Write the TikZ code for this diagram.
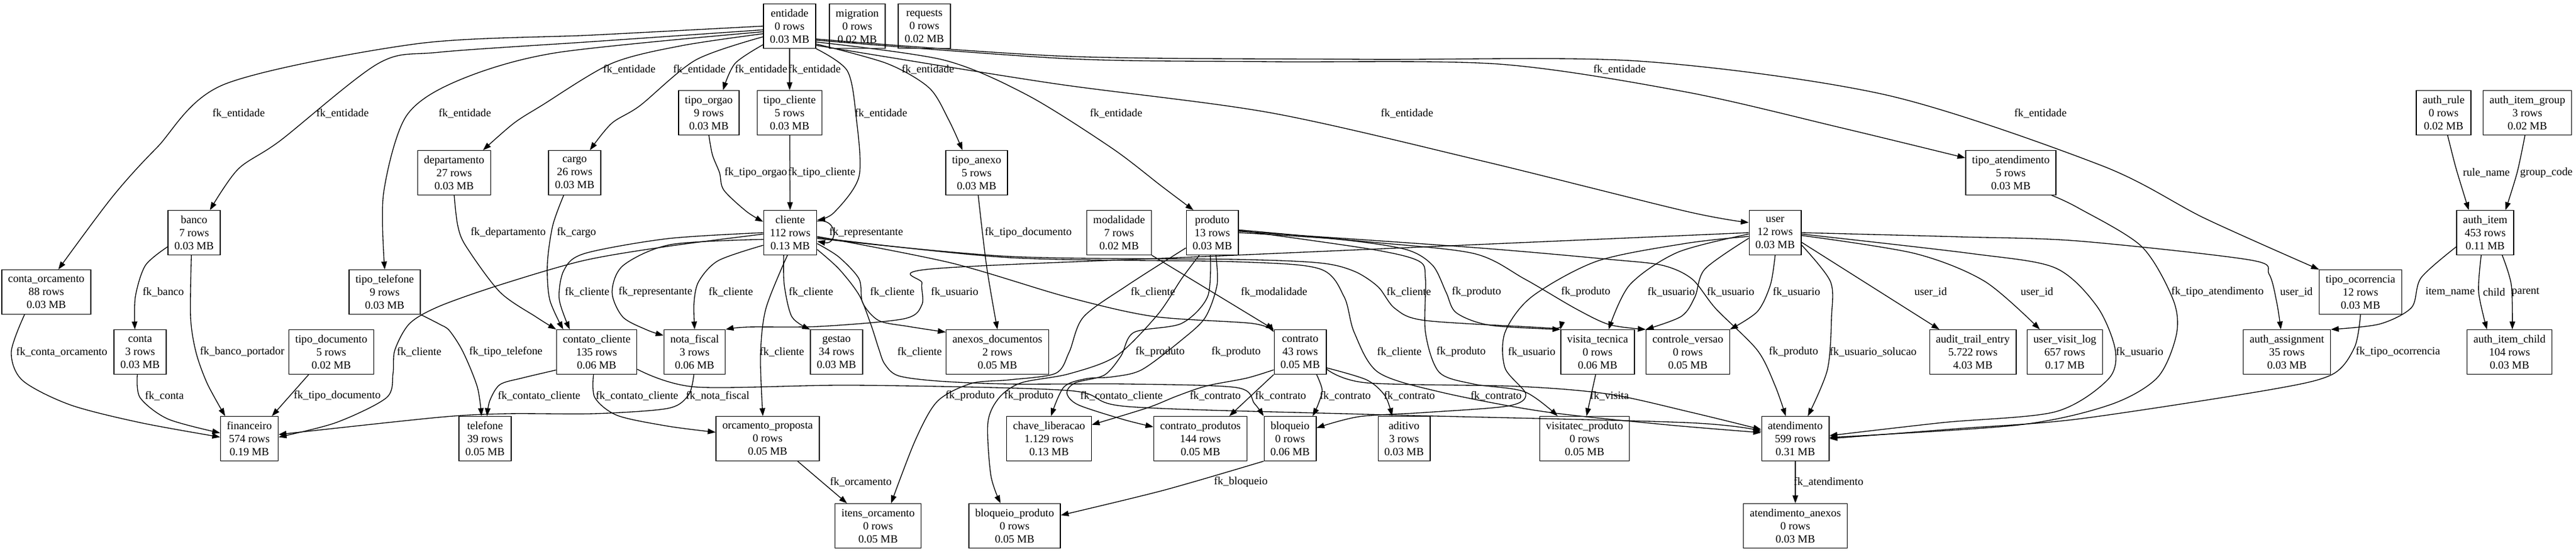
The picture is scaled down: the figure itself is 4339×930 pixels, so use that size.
\documentclass[tikz,border=0pt]{standalone}
\usepackage{fontspec}
\setmainfont{Liberation Serif}
\usetikzlibrary{arrows.meta}

\begin{document}
\begin{tikzpicture}[x=0.75pt, y=-0.75pt,
    tbl/.style={draw, line width=1pt, align=center, inner xsep=8pt, inner ysep=2pt,
      minimum width=54pt, minimum height=56pt, font=\fontsize{14}{16.5}\selectfont},
    lbl/.style={inner sep=1pt, font=\fontsize{14}{16.5}\selectfont},
    fk/.style={line width=1pt, tension=0.5, -{Triangle[length=10pt, width=7pt]}}]

            \path[fill=white] (0,0) rectangle (4339,930);

            \node[tbl] (entidade) at (1330,44) {entidade\\0 rows\\0.03 MB};
            \node[tbl] (migration) at (1444,44) {migration\\0 rows\\0.02 MB};
            \node[tbl] (requests) at (1557,44) {requests\\0 rows\\0.02 MB};
            \node[tbl] (tipo_orgao) at (1194,190) {tipo\_orgao\\9 rows\\0.03 MB};
            \node[tbl] (tipo_cliente) at (1330,190) {tipo\_cliente\\5 rows\\0.03 MB};
            \node[tbl] (auth_rule) at (4116,190) {auth\_rule\\0 rows\\0.02 MB};
            \node[tbl] (auth_item_group) at (4257,190) {auth\_item\_group\\3 rows\\0.02 MB};
            \node[tbl] (departamento) at (765,291) {departamento\\27 rows\\0.03 MB};
            \node[tbl] (cargo) at (968,291) {cargo\\26 rows\\0.03 MB};
            \node[tbl] (tipo_anexo) at (1645,291) {tipo\_anexo\\5 rows\\0.03 MB};
            \node[tbl] (tipo_atendimento) at (3387,291) {tipo\_atendimento\\5 rows\\0.03 MB};
            \node[tbl] (banco) at (327,392) {banco\\7 rows\\0.03 MB};
            \node[tbl] (cliente) at (1331,392) {cliente\\112 rows\\0.13 MB};
            \node[tbl] (modalidade) at (1885,392) {modalidade\\7 rows\\0.02 MB};
            \node[tbl] (produto) at (2042,392) {produto\\13 rows\\0.03 MB};
            \node[tbl] (user) at (2990,392) {user\\12 rows\\0.03 MB};
            \node[tbl] (auth_item) at (4186,392) {auth\_item\\453 rows\\0.11 MB};
            \node[tbl] (conta_orcamento) at (78,492) {conta\_orcamento\\88 rows\\0.03 MB};
            \node[tbl] (tipo_telefone) at (648,492) {tipo\_telefone\\9 rows\\0.03 MB};
            \node[tbl] (tipo_ocorrencia) at (3976,492) {tipo\_ocorrencia\\12 rows\\0.03 MB};
            \node[tbl] (conta) at (236,593) {conta\\3 rows\\0.03 MB};
            \node[tbl] (tipo_documento) at (558,593) {tipo\_documento\\5 rows\\0.02 MB};
            \node[tbl] (contato_cliente) at (1005,593) {contato\_cliente\\135 rows\\0.06 MB};
            \node[tbl] (nota_fiscal) at (1170,593) {nota\_fiscal\\3 rows\\0.06 MB};
            \node[tbl] (gestao) at (1409,593) {gestao\\34 rows\\0.03 MB};
            \node[tbl] (anexos_documentos) at (1680,593) {anexos\_documentos\\2 rows\\0.05 MB};
            \node[tbl] (contrato) at (2190,593) {contrato\\43 rows\\0.05 MB};
            \node[tbl] (visita_tecnica) at (2691,593) {visita\_tecnica\\0 rows\\0.06 MB};
            \node[tbl] (controle_versao) at (2843,593) {controle\_versao\\0 rows\\0.05 MB};
            \node[tbl] (audit_trail_entry) at (3323,593) {audit\_trail\_entry\\5.722 rows\\4.03 MB};
            \node[tbl] (user_visit_log) at (3478,593) {user\_visit\_log\\657 rows\\0.17 MB};
            \node[tbl] (auth_assignment) at (3852,593) {auth\_assignment\\35 rows\\0.03 MB};
            \node[tbl] (auth_item_child) at (4227,593) {auth\_item\_child\\104 rows\\0.03 MB};
            \node[tbl] (financeiro) at (420,739) {financeiro\\574 rows\\0.19 MB};
            \node[tbl] (telefone) at (817,739) {telefone\\39 rows\\0.05 MB};
            \node[tbl] (orcamento_proposta) at (1293,739) {orcamento\_proposta\\0 rows\\0.05 MB};
            \node[tbl] (chave_liberacao) at (1767,739) {chave\_liberacao\\1.129 rows\\0.13 MB};
            \node[tbl] (contrato_produtos) at (2022,739) {contrato\_produtos\\144 rows\\0.05 MB};
            \node[tbl] (bloqueio) at (2173,739) {bloqueio\\0 rows\\0.06 MB};
            \node[tbl] (aditivo) at (2365,739) {aditivo\\3 rows\\0.03 MB};
            \node[tbl] (visitatec_produto) at (2669,739) {visitatec\_produto\\0 rows\\0.05 MB};
            \node[tbl] (atendimento) at (3024,739) {atendimento\\599 rows\\0.31 MB};
            \node[tbl] (itens_orcamento) at (1479,886) {itens\_orcamento\\0 rows\\0.05 MB};
            \node[tbl] (bloqueio_produto) at (1709,886) {bloqueio\_produto\\0 rows\\0.05 MB};
            \node[tbl] (atendimento_anexos) at (3024,886) {atendimento\_anexos\\0 rows\\0.03 MB};

            \node[lbl] (l1) at (402,191) {fk\_entidade};
            \node[lbl] (l2) at (577,191) {fk\_entidade};
            \node[lbl] (l3) at (783,191) {fk\_entidade};
            \node[lbl] (l4) at (1060,117) {fk\_entidade};
            \node[lbl] (l5) at (1178,117) {fk\_entidade};
            \node[lbl] (l6) at (1282,117) {fk\_entidade};
            \node[lbl] (l7) at (1372,117) {fk\_entidade};
            \node[lbl] (l8) at (1484,191) {fk\_entidade};
            \node[lbl] (l9) at (1563,117) {fk\_entidade};
            \node[lbl] (l10) at (1880,191) {fk\_entidade};
            \node[lbl] (l11) at (2370,191) {fk\_entidade};
            \node[lbl] (l12) at (2728,117) {fk\_entidade};
            \node[lbl] (l13) at (3437,191) {fk\_entidade};
            \node[lbl] (l14) at (1273,291) {fk\_tipo\_orgao};
            \node[lbl] (l15) at (1384,291) {fk\_tipo\_cliente};
            \node[lbl] (l16) at (4188,291) {rule\_name};
            \node[lbl] (l17) at (4289,291) {group\_code};
            \node[lbl] (l18) at (856,392) {fk\_departamento};
            \node[lbl] (l19) at (971,392) {fk\_cargo};
            \node[lbl] (l20) at (1459,392) {fk\_representante};
            \node[lbl] (l21) at (1732,392) {fk\_tipo\_documento};
            \node[lbl] (l22) at (275,492) {fk\_banco};
            \node[lbl] (l23) at (989,492) {fk\_cliente};
            \node[lbl] (l24) at (1104,492) {fk\_representante};
            \node[lbl] (l25) at (1231,492) {fk\_cliente};
            \node[lbl] (l26) at (1366,492) {fk\_cliente};
            \node[lbl] (l27) at (1503,492) {fk\_cliente};
            \node[lbl] (l28) at (1608,492) {fk\_usuario};
            \node[lbl] (l29) at (1942,492) {fk\_cliente};
            \node[lbl] (l30) at (2146,492) {fk\_modalidade};
            \node[lbl] (l31) at (2373,492) {fk\_cliente};
            \node[lbl] (l32) at (2487,492) {fk\_produto};
            \node[lbl] (l33) at (2671,492) {fk\_produto};
            \node[lbl] (l34) at (2815,492) {fk\_usuario};
            \node[lbl] (l35) at (2915,492) {fk\_usuario};
            \node[lbl] (l36) at (3026,492) {fk\_usuario};
            \node[lbl] (l37) at (3252,492) {user\_id};
            \node[lbl] (l38) at (3431,492) {user\_id};
            \node[lbl] (l39) at (3735,492) {fk\_tipo\_atendimento};
            \node[lbl] (l40) at (3868,492) {user\_id};
            \node[lbl] (l41) at (4127,492) {item\_name};
            \node[lbl] (l42) at (4201,492) {child};
            \node[lbl] (l43) at (4254,492) {parent};
            \node[lbl] (l44) at (104,593) {fk\_conta\_orcamento};
            \node[lbl] (l45) at (408,593) {fk\_banco\_portador};
            \node[lbl] (l46) at (706,593) {fk\_cliente};
            \node[lbl] (l47) at (852,593) {fk\_tipo\_telefone};
            \node[lbl] (l48) at (1317,593) {fk\_cliente};
            \node[lbl] (l49) at (1549,593) {fk\_cliente};
            \node[lbl] (l50) at (2082,593) {fk\_produto};
            \node[lbl] (l51) at (1954,593) {fk\_produto};
            \node[lbl] (l52) at (2357,593) {fk\_cliente};
            \node[lbl] (l53) at (2461,593) {fk\_produto};
            \node[lbl] (l54) at (2580,593) {fk\_usuario};
            \node[lbl] (l55) at (3021,593) {fk\_produto};
            \node[lbl] (l56) at (3155,593) {fk\_usuario\_solucao};
            \node[lbl] (l57) at (3604,593) {fk\_usuario};
            \node[lbl] (l58) at (4039,593) {fk\_tipo\_ocorrencia};
            \node[lbl] (l59) at (277,667) {fk\_conta};
            \node[lbl] (l60) at (568,667) {fk\_tipo\_documento};
            \node[lbl] (l61) at (908,667) {fk\_contato\_cliente};
            \node[lbl] (l62) at (1073,667) {fk\_contato\_cliente};
            \node[lbl] (l63) at (1209,667) {fk\_nota\_fiscal};
            \node[lbl] (l64) at (1634,667) {fk\_produto};
            \node[lbl] (l65) at (1733,667) {fk\_produto};
            \node[lbl] (l66) at (1889,667) {fk\_contato\_cliente};
            \node[lbl] (l67) at (2047,667) {fk\_contrato};
            \node[lbl] (l68) at (2157,667) {fk\_contrato};
            \node[lbl] (l69) at (2266,667) {fk\_contrato};
            \node[lbl] (l70) at (2374,667) {fk\_contrato};
            \node[lbl] (l71) at (2520,667) {fk\_contrato};
            \node[lbl] (l72) at (2711,667) {fk\_visita};
            \node[lbl] (l73) at (1450,812) {fk\_orcamento};
            \node[lbl] (l74) at (2090,812) {fk\_bloqueio};
            \node[lbl] (l75) at (3080,812) {fk\_atendimento};

            \draw[fk] plot[smooth] coordinates {(entidade.west) (1000,59) (700,74) (378,142) (264,249) (189,332) (conta_orcamento.62)};
            \draw[fk] plot[smooth] coordinates {(entidade.188) (1000,70) (740,88) (637,107) (472,237) (401,285) (banco.55)};
            \draw[fk] plot[smooth] coordinates {(entidade.192) (936,89) (771,136) (684,196) (646,326) (tipo_telefone.north)};
            \draw[fk] plot[smooth] coordinates {(entidade.196) (1148,77) (1030,107) (912,178) (865,208) (departamento.38)};
            \draw[fk] plot[smooth] coordinates {(entidade.202) (1172,101) (1078,178) (1030,208) (cargo.56)};
            \draw[fk] plot[smooth] coordinates {(entidade.215) (1238,107) (tipo_orgao.58)};
            \draw[fk] (entidade) -- (tipo_cliente);
            \draw[fk] plot[smooth] coordinates {(entidade.south east) (1427,119) (1442,196) (1447,297) (1405,358) (cliente.25)};
            \draw[fk] plot[smooth] coordinates {(entidade.-34) (1494,107) (1565,148) (1598,202) (tipo_anexo.122)};
            \draw[fk] plot[smooth] coordinates {(entidade.-31) (1589,101) (1730,160) (1872,249) (1957,314) (produto.130)};
            \draw[fk] plot[smooth] coordinates {(entidade.-36) (1770,140) (2140,190) (2500,272) (2840,356) (user.159)};
            \draw[fk] plot[smooth] coordinates {(entidade.-28) (1800,99) (2140,104) (2525,108) (2840,155) (3100,215) (tipo_atendimento.162)};
            \draw[fk] plot[smooth] coordinates {(entidade.-26) (1800,95) (2300,100) (2761,103) (3177,160) (3540,279) (3714,368) (tipo_ocorrencia.north west)};
            \draw[fk] plot[smooth] coordinates {(tipo_orgao.south) (1200,261) (1212,291) (1219,320) (1257,356) (cliente.158)};
            \draw[fk] (tipo_cliente) -- (cliente);
            \draw[fk] plot[smooth] coordinates {(auth_rule.-80) (4137,284) (auth_item.126)};
            \draw[fk] plot[smooth] coordinates {(auth_item_group.-96) (4240,290) (auth_item.48)};
            \draw[fk] plot[smooth] coordinates {(departamento.south) (771,380) (785,415) (842,492) (903,534) (contato_cliente.north west)};
            \draw[fk] plot[smooth] coordinates {(cargo.-116) (931,380) (922,445) (926,505) (contato_cliente.146)};
            \draw[fk] (cliente.23) .. controls +(35,-6) and +(35,6) .. (cliente.-18);
            \draw[fk] plot[smooth] coordinates {(tipo_anexo.-86) (1662,450) (anexos_documentos.north)};
            \draw[fk] plot[smooth] coordinates {(banco.208) (245,447) (228,500) (conta.103)};
            \draw[fk] plot[smooth] coordinates {(cliente.west) (1125,402) (985,427) (950,455) (942,504) (contato_cliente.140)};
            \draw[fk] plot[smooth] coordinates {(cliente.194) (1130,412) (1050,447) (1031,492) (1049,534) (1090,556) (nota_fiscal.152)};
            \draw[fk] plot[smooth] coordinates {(cliente.205) (1210,439) (1177,474) (1169,510) (nota_fiscal.north)};
            \draw[fk] plot[smooth] coordinates {(cliente.-106) (1321,480) (1334,534) (gestao.north west)};
            \draw[fk] plot[smooth] coordinates {(cliente.-22) (1413,433) (1447,470) (1453,510) (1480,540) (1530,550) (anexos_documentos.159)};
            \draw[fk] plot[smooth] coordinates {(user.west) (2080,430) (1570,453) (1553,477) (1553,513) (1523,537) (1380,550) (1260,551) (nota_fiscal.north east)};
            \draw[fk] plot[smooth] coordinates {(cliente.-8) (1602,443) (1796,500) (1942,533) (2110,545) (contrato.143)};
            \draw[fk] (modalidade.south east) -- (contrato.north west);
            \draw[fk] plot[smooth] coordinates {(cliente.-12) (1700,432) (2080,437) (2223,443) (2281,457) (2321,483) (2350,520) (2401,540) (2597,552) (visita_tecnica.north west)};
            \draw[fk] plot[smooth] coordinates {(produto.east) (2252,403) (2367,420) (2413,447) (2436,493) (2453,527) (2510,548) (visita_tecnica.north west)};
            \draw[fk] plot[smooth] coordinates {(produto.6) (2300,407) (2482,427) (2568,470) (2654,520) (2711,547) (controle_versao.north west)};
            \draw[fk] plot[smooth] coordinates {(user.183) (2826,425) (2745,480) (visita_tecnica.64)};
            \draw[fk] plot[smooth] coordinates {(user.192) (2872,453) (2855,500) (2832,533) (controle_versao.north west)};
            \draw[fk] plot[smooth] coordinates {(user.south) (2982,480) (2960,525) (controle_versao.north east)};
            \draw[fk] (user.-20) -- (audit_trail_entry.146);
            \draw[fk] plot[smooth] coordinates {(user.-6) (3225,427) (3343,474) (user_visit_log.138)};
            \draw[fk] plot[smooth] coordinates {(tipo_atendimento.-29) (3500,350) (3607,415) (3660,504) (3666,563) (3634,636) (3554,682) (3400,716) (atendimento.2)};
            \draw[fk] plot[smooth] coordinates {(user.east) (3300,399) (3500,406) (3790,438) (3822,462) (3835,510) (auth_assignment.105)};
            \draw[fk] plot[smooth] coordinates {(auth_item.206) (4078,468) (4062,518) (4008,546) (auth_assignment.north east)};
            \draw[fk] plot[smooth] coordinates {(auth_item.-100) (4175,492) (auth_item_child.135)};
            \draw[fk] plot[smooth] coordinates {(auth_item.-53) (4230,480) (auth_item_child.83)};
            \draw[fk] plot[smooth] coordinates {(conta_orcamento.-134) (19,593) (38,641) (118,682) (236,712) (financeiro.177)};
            \draw[fk] plot[smooth] coordinates {(banco.-97) (321,534) (330,593) (349,646) (financeiro.137)};
            \draw[fk] plot[smooth] coordinates {(cliente.183) (1125,415) (983,439) (842,480) (740,516) (690,545) (665,590) (662,629) (651,670) (566,712) (financeiro.3)};
            \draw[fk] plot[smooth] coordinates {(tipo_telefone.south east) (740,546) (757,557) (780,593) (804,652) (telefone.99)};
            \draw[fk] plot[smooth] coordinates {(cliente.-97) (1290,520) (1281,600) (orcamento_proposta.102)};
            \draw[fk] plot[smooth] coordinates {(cliente.-32) (1413,453) (1447,497) (1467,547) (1480,587) (1490,613) (1513,633) (1580,642) (1700,647) (1900,647) (2083,653) (2113,680) (bloqueio.north west)};
            \draw[fk] plot[smooth] coordinates {(produto.-81) (2050,480) (2030,535) (1990,573) (1923,623) (1873,635) (1830,638) (1792,652) (chave_liberacao.85)};
            \draw[fk] plot[smooth] coordinates {(produto.-95) (2034,500) (1990,545) (1910,560) (1888,600) (1860,632) (1811,645) (1797,662) (1816,682) (1893,707) (contrato_produtos.166)};
            \draw[fk] plot[smooth] coordinates {(cliente.-10) (1700,434) (2080,441) (2223,453) (2264,500) (2281,560) (2321,627) (2424,660) (2597,693) (2800,715) (atendimento.170)};
            \draw[fk] plot[smooth] coordinates {(produto.5) (2310,420) (2390,440) (2401,470) (2401,560) (2424,627) (2482,647) (2568,660) (visitatec_produto.140)};
            \draw[fk] plot[smooth] coordinates {(user.188) (2840,410) (2690,440) (2580,500) (2535,560) (2535,620) (2570,664) (2540,684) (2400,695) (2289,702) (bloqueio.22)};
            \draw[fk] plot[smooth] coordinates {(produto.3) (2482,417) (2711,437) (2800,447) (2850,470) (2890,520) (2960,590) (2990,650) (atendimento.113)};
            \draw[fk] plot[smooth] coordinates {(user.-25) (3083,474) (3085,534) (3078,623) (atendimento.61)};
            \draw[fk] plot[smooth] coordinates {(user.-3) (3319,427) (3461,451) (3532,516) (3563,590) (3550,640) (3461,694) (3272,712) (atendimento.5)};
            \draw[fk] plot[smooth] coordinates {(tipo_ocorrencia.south) (3966,585) (3928,631) (3821,657) (3500,706) (3300,722) (atendimento.0)};
            \draw[fk] plot[smooth] coordinates {(conta.-97) (236,670) (283,706) (financeiro.169)};
            \draw[fk] (tipo_documento.-135) -- (financeiro.45);
            \draw[fk] plot[smooth] coordinates {(contato_cliente.204) (879,637) (842,648) (825,675) (telefone.85)};
            \draw[fk] plot[smooth] coordinates {(contato_cliente.-98) (1002,670) (1040,700) (1125,718) (orcamento_proposta.173)};
            \draw[fk] plot[smooth] coordinates {(nota_fiscal.-92) (1160,665) (1125,688) (1000,697) (856,697) (740,703) (financeiro.8)};
            \draw[fk] plot[smooth] coordinates {(produto.210) (1900,480) (1825,534) (1801,593) (1778,629) (1700,640) (1636,646) (1579,676) (1542,741) (itens_orcamento.60)};
            \draw[fk] plot[smooth] coordinates {(produto.-120) (1990,470) (1950,530) (1880,600) (1800,630) (1720,645) (1683,670) (1664,712) (1669,801) (bloqueio_produto.122)};
            \draw[fk] plot[smooth] coordinates {(contato_cliente.-23) (1172,652) (1440,649) (1800,658) (1900,685) (2300,698) (2840,712) (atendimento.168)};
            \draw[fk] plot[smooth] coordinates {(contrato.214) (2100,637) (2033,650) (1983,667) (1933,687) (chave_liberacao.18)};
            \draw[fk] (contrato.south west) -- (contrato_produtos.38);
            \draw[fk] plot[smooth] coordinates {(contrato.-54) (2227,657) (2220,682) (bloqueio.45)};
            \draw[fk] plot[smooth] coordinates {(contrato.-31) (2302,640) (2333,667) (aditivo.118)};
            \draw[fk] plot[smooth] coordinates {(contrato.-33) (2302,645) (2557,651) (2710,664) (2850,695) (atendimento.165)};
            \draw[fk] (visita_tecnica.-95) -- (visitatec_produto.85);
            \draw[fk] (orcamento_proposta.-37) -- (itens_orcamento.144);
            \draw[fk] plot[smooth] coordinates {(bloqueio.south west) (1960,826) (bloqueio_produto.13)};
            \draw[fk] (atendimento) -- (atendimento_anexos);

        \end{tikzpicture}
\end{document}
